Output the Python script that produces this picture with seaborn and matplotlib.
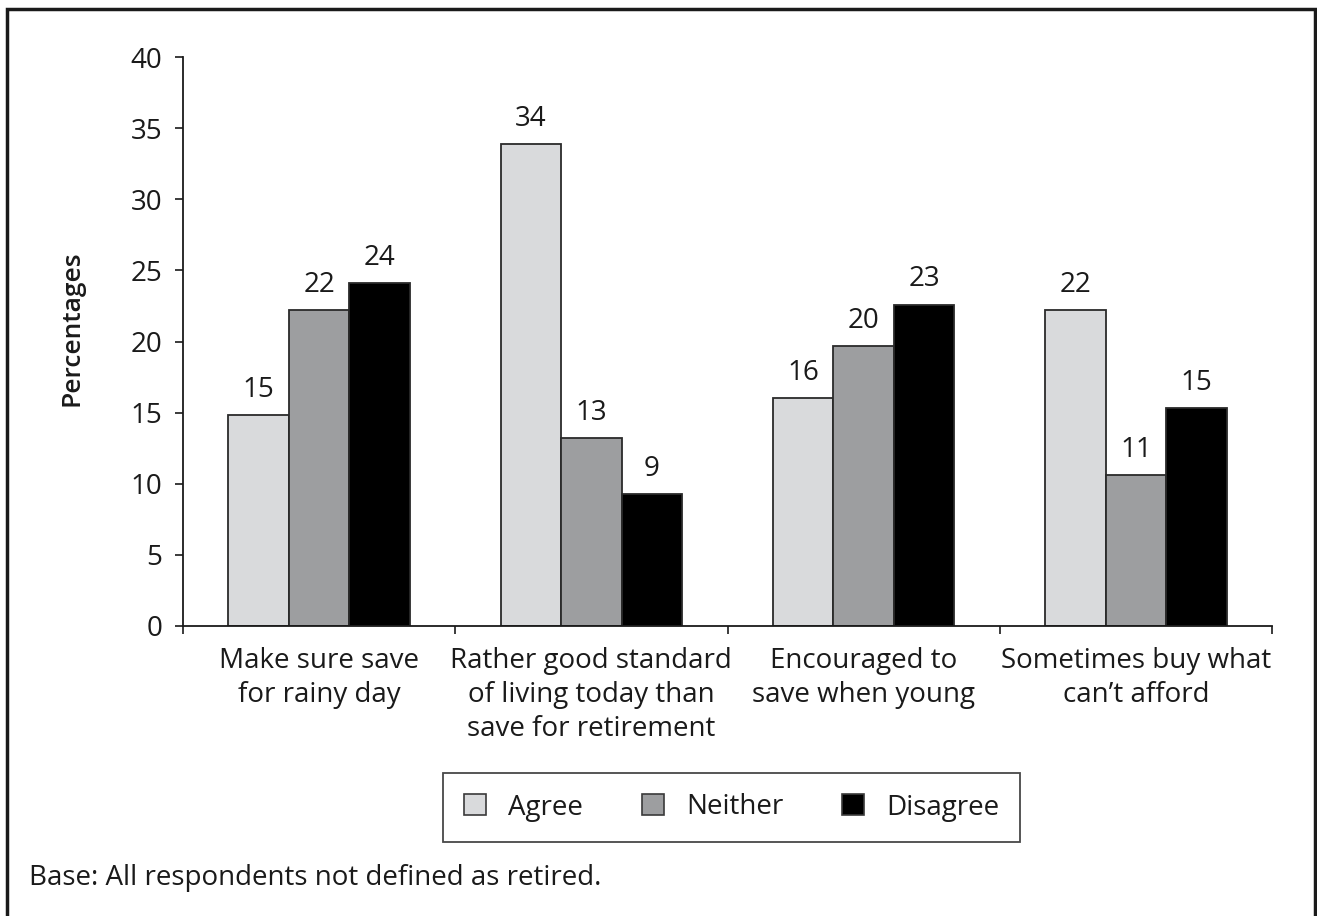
import numpy as np
import pandas as pd
import matplotlib
matplotlib.use("Agg")
import matplotlib.pyplot as plt
from matplotlib.patches import Rectangle
from matplotlib.ticker import FixedLocator
import seaborn as sns

# Survey statements (x-axis categories)
categories = [
    "Make sure save\nfor rainy day",
    "Rather good standard\nof living today than\nsave for retirement",
    "Encouraged to\nsave when young",
    "Sometimes buy what\ncan\u2019t afford",
]
responses = ["Agree", "Neither", "Disagree"]

# Percentages per response
agree = [14.8, 33.9, 16.0, 22.2]
neither = [22.2, 13.2, 19.7, 10.6]
disagree = [24.1, 9.3, 22.6, 15.3]

y_ticks = [0, 5, 10, 15, 20, 25, 30, 35, 40]

colors = ["#d9dadc", "#9d9ea0", "#000000"]

df = pd.DataFrame({
    "statement": categories * 3,
    "response": [r for r in responses for _ in categories],
    "pct": agree + neither + disagree,
})

sns.set_theme(style="white")
plt.rcParams["font.family"] = ["Open Sans", "DejaVu Sans"]
FS = 20

fig = plt.figure(figsize=(13.17, 9.16), dpi=100)
ax = fig.add_axes([183 / 1317, 1 - 626 / 916, 1089 / 1317, 569 / 916])

sns.barplot(
    data=df, x="statement", y="pct", hue="response",
    order=categories, hue_order=responses, palette=colors,
    width=0.667, gap=0, edgecolor="#2a2a2a", linewidth=1.3,
    saturation=1, legend=False, ax=ax,
)

# Value labels above each bar
for cont, vals in zip(ax.containers, [agree, neither, disagree]):
    ax.bar_label(cont, labels=[f"{v:.0f}" for v in vals], padding=8,
                 fontsize=FS, color="#1a1a1a")

ax.set_xlim(-0.5, len(categories) - 0.5)
ax.set_ylim(0, 40)
ax.set_yticks(y_ticks)
ax.set_yticklabels([str(t) for t in y_ticks], fontsize=FS, color="#1a1a1a")
ax.tick_params(axis="y", which="major", direction="out", length=6,
               width=1.2, color="#1a1a1a", left=True, pad=9)

ax.set_xticks(range(len(categories)))
ax.set_xticklabels(categories, fontsize=FS, color="#1a1a1a", linespacing=1.3)
ax.tick_params(axis="x", which="major", length=0, pad=15)
# tick marks between category groups
ax.xaxis.set_minor_locator(FixedLocator(np.arange(-0.5, len(categories), 1.0)))
ax.tick_params(axis="x", which="minor", direction="out", length=6,
               width=1.2, color="#1a1a1a", bottom=True)

ax.set_xlabel("")
ax.set_ylabel("")
for side in ["top", "right"]:
    ax.spines[side].set_visible(False)
for side in ["left", "bottom"]:
    ax.spines[side].set_color("#1a1a1a")
    ax.spines[side].set_linewidth(1.3)

fig.text(72 / 1317, 1 - 328 / 916, "Percentages", rotation=90,
         ha="center", va="center", fontsize=19, fontweight="semibold",
         color="#1a1a1a")

# Legend
handles = [Rectangle((0, 0), 1, 1, facecolor=c, edgecolor="#3a3a3a",
                     linewidth=1.2) for c in colors]
leg = fig.legend(handles, responses, loc="center",
                 bbox_to_anchor=((443 + 1020) / 2 / 1317, 1 - 807.5 / 916),
                 ncol=3, fontsize=FS, frameon=True, fancybox=False,
                 handlelength=0.8, handleheight=0.8, handletextpad=0.8,
                 columnspacing=2.1, borderpad=0.75)
leg.get_frame().set_edgecolor("#1a1a1a")
leg.get_frame().set_linewidth(1.3)
for t in leg.get_texts():
    t.set_color("#1a1a1a")

fig.text(29 / 1317, 1 - 878 / 916, "Base: All respondents not defined as retired.",
         ha="left", va="center", fontsize=FS, color="#1a1a1a")

# Outer frame
fig.patches.append(Rectangle((7 / 1317, -0.05), (1315 - 7) / 1317, 1.05 - 9 / 916,
                             transform=fig.transFigure, fill=False,
                             edgecolor="#1a1a1a", linewidth=2.5))

fig.savefig("out.png", dpi=100)
